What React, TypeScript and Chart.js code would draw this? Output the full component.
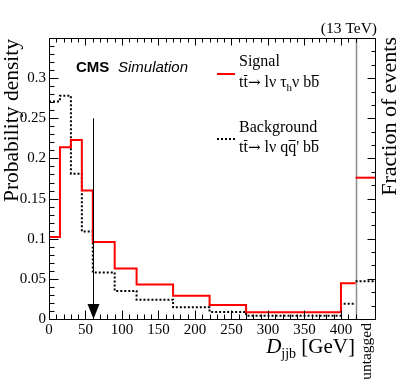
import React, { useEffect, useRef } from 'react';
import { Chart, registerables } from 'chart.js';

Chart.register(...registerables);

// ---- data ----
const binEdges = [0, 15, 30, 45, 60, 90, 120, 170, 220, 270, 400, 420];
const signalValues = [0.102, 0.214, 0.223, 0.16, 0.096, 0.063, 0.043, 0.029, 0.0175, 0.0085, 0.0445];
const backgroundValues = [0.271, 0.278, 0.181, 0.109, 0.058, 0.035, 0.024, 0.0145, 0.0087, 0.0042, 0.019];
const untaggedEdges = [420, 448];
const signalUntagged = [0.176];
const backgroundUntagged = [0.047];
const xTickValues = [0, 50, 100, 150, 200, 250, 300, 350, 400];
const yTickValues = [0, 0.05, 0.1, 0.15, 0.2, 0.25, 0.3];
const cutPosition = 60;
const cutArrowTop = 0.25;

const SERIF = '"Liberation Serif", "Times New Roman", serif';
const SANS = '"Liberation Sans", Arial, sans-serif';

function histPoints(edges: number[], values: number[]) {
  const pts = values.map((v, i) => ({ x: edges[i], y: v }));
  pts.push({ x: edges[edges.length - 1], y: values[values.length - 1] });
  return pts;
}

type Part = { t: string; sub?: boolean; bar?: boolean; italic?: boolean; family?: string; scale?: number };

function drawRich(ctx: CanvasRenderingContext2D, x: number, y: number, parts: Part[], size: number, align: 'left' | 'right' = 'left') {
  const fontFor = (p: Part) => `${p.italic ? 'italic ' : ''}${Math.round(size * (p.sub ? 0.68 : p.scale || 1))}px ${p.family || SERIF}`;
  let total = 0;
  for (const p of parts) {
    ctx.font = fontFor(p);
    total += ctx.measureText(p.t).width;
  }
  let cx = align === 'left' ? x : x - total;
  ctx.textAlign = 'left';
  ctx.textBaseline = 'alphabetic';
  for (const p of parts) {
    ctx.font = fontFor(p);
    const w = ctx.measureText(p.t).width;
    const by = p.sub ? y + size * 0.22 : y;
    ctx.fillText(p.t, cx, by);
    if (p.bar) {
      ctx.save();
      ctx.lineWidth = 1;
      ctx.strokeStyle = '#000';
      ctx.beginPath();
      const yy = Math.round(by - size * 0.76) + 0.5;
      ctx.moveTo(cx + 0.5, yy);
      ctx.lineTo(cx + w - 0.5, yy);
      ctx.stroke();
      ctx.restore();
    }
    cx += w;
  }
}

const decorPlugin = {
  id: 'decor',
  beforeDatasetsDraw(chart: any) {
    const ctx: CanvasRenderingContext2D = chart.ctx;
    const { top, bottom } = chart.chartArea;
    const xs = chart.scales.x;
    const sx = Math.round(xs.getPixelForValue(untaggedEdges[0])) + 0.5;
    ctx.save();
    ctx.strokeStyle = '#8c8c8c';
    ctx.lineWidth = 1.5;
    ctx.beginPath();
    ctx.moveTo(sx, top);
    ctx.lineTo(sx, bottom);
    ctx.stroke();
    ctx.restore();
  },
  afterDraw(chart: any) {
    const ctx: CanvasRenderingContext2D = chart.ctx;
    const { left, right, top, bottom } = chart.chartArea;
    const xs = chart.scales.x;
    const ys = chart.scales.y;
    const L = Math.round(left) + 0.5;
    const R = Math.round(right) - 0.5;
    const T = Math.round(top) + 0.5;
    const B = Math.round(bottom) + 0.5;
    ctx.save();
    ctx.strokeStyle = '#000';
    ctx.lineWidth = 1;
    ctx.beginPath();
    ctx.moveTo(L, T); ctx.lineTo(R, T); ctx.lineTo(R, B); ctx.lineTo(L, B); ctx.closePath();
    ctx.stroke();

    // x ticks (bottom and top, inward)
    ctx.beginPath();
    for (let v = 0; v <= untaggedEdges[0]; v += 10) {
      const px = Math.round(xs.getPixelForValue(v)) + 0.5;
      const major = v % 50 === 0;
      const lb = major ? 9 : 5;
      const lt = major ? 7 : 4;
      ctx.moveTo(px, B); ctx.lineTo(px, B - lb);
      ctx.moveTo(px, T); ctx.lineTo(px, T + lt);
    }
    // y ticks left
    for (let i = 0; i <= 35; i++) {
      const v = i * 0.01;
      const py = Math.round(ys.getPixelForValue(v)) + 0.5;
      const major = i % 5 === 0;
      ctx.moveTo(L, py); ctx.lineTo(L + (major ? 9 : 5), py);
    }
    // y ticks right (untagged panel)
    for (let i = 0; i <= 21; i++) {
      const v = i * (0.05 / 3);
      if (v > 0.35) break;
      const py = Math.round(ys.getPixelForValue(v)) + 0.5;
      const major = i % 3 === 0;
      ctx.moveTo(R, py); ctx.lineTo(R - (major ? 8 : 4), py);
    }
    ctx.stroke();

    // arrow
    const ax = Math.round(xs.getPixelForValue(cutPosition)) + 0.5;
    const ayTop = ys.getPixelForValue(cutArrowTop);
    const ayBot = ys.getPixelForValue(0);
    ctx.beginPath();
    ctx.moveTo(ax, ayTop);
    ctx.lineTo(ax, ayBot - 14);
    ctx.stroke();
    ctx.fillStyle = '#000';
    ctx.beginPath();
    ctx.moveTo(ax - 6, ayBot - 15);
    ctx.lineTo(ax + 6, ayBot - 15);
    ctx.lineTo(ax, ayBot);
    ctx.closePath();
    ctx.fill();

    // texts
    ctx.fillStyle = '#000';
    ctx.textBaseline = 'alphabetic';
    ctx.font = `15.5px ${SERIF}`;
    ctx.textAlign = 'right';
    ctx.fillText('(13 TeV)', 377, 33);

    ctx.textAlign = 'left';
    ctx.font = `bold 15px ${SANS}`;
    ctx.fillText('CMS', 76, 72);
    ctx.font = `italic 15px ${SANS}`;
    ctx.fillText('Simulation', 118, 72);

    // legend
    ctx.strokeStyle = '#ff0000';
    ctx.lineWidth = 2;
    ctx.beginPath();
    ctx.moveTo(217, 74); ctx.lineTo(235, 74);
    ctx.stroke();
    ctx.strokeStyle = '#000';
    ctx.setLineDash([2, 2]);
    ctx.beginPath();
    ctx.moveTo(217, 139); ctx.lineTo(235, 139);
    ctx.stroke();
    ctx.setLineDash([]);

    ctx.font = `16px ${SERIF}`;
    ctx.fillText('Signal', 239, 66);
    ctx.fillText('Background', 239, 132);
    const ARROW_FONT = '"DejaVu Serif", serif';
    drawRich(ctx, 239, 87, [
      { t: 't' }, { t: 't', bar: true }, { t: '\u2192', family: ARROW_FONT, scale: 0.95 }, { t: ' l\u03bd \u03c4' }, { t: 'h', sub: true }, { t: '\u03bd b' }, { t: 'b', bar: true },
    ], 16);
    drawRich(ctx, 239, 152, [
      { t: 't' }, { t: 't', bar: true }, { t: '\u2192', family: ARROW_FONT, scale: 0.95 }, { t: ' l\u03bd q' }, { t: 'q', bar: true }, { t: '\' b' }, { t: 'b', bar: true },
    ], 16);

    // x title
    drawRich(ctx, 355, 353, [
      { t: 'D', italic: true }, { t: 'jjb', sub: true }, { t: ' [GeV]' },
    ], 21, 'right');

    // rotated titles
    const rot = (text: string, x: number, y: number, font: string) => {
      ctx.save();
      ctx.translate(x, y);
      ctx.rotate(-Math.PI / 2);
      ctx.font = font;
      ctx.textAlign = 'right';
      ctx.textBaseline = 'alphabetic';
      ctx.fillText(text, 0, 0);
      ctx.restore();
    };
    rot('Probability density', 18, 39, `21.5px ${SERIF}`);
    rot('Fraction of events', 396, 37, `22px ${SERIF}`);
    rot('untagged', 371, 323, `15.5px ${SERIF}`);
    ctx.restore();
  },
};

export default function App() {
  const ref = useRef<HTMLCanvasElement | null>(null);
  useEffect(() => {
    if (!ref.current) return;
    const chart = new Chart(ref.current, {
      type: 'line',
      data: {
        datasets: [
          {
            label: 'Signal',
            data: histPoints(binEdges, signalValues),
            borderColor: '#ff0000',
            borderWidth: 2,
            stepped: 'before',
            pointRadius: 0,
            fill: false,
          },
          {
            label: 'Background',
            data: histPoints(binEdges, backgroundValues),
            borderColor: '#000000',
            borderWidth: 2,
            borderDash: [2, 2],
            stepped: 'before',
            pointRadius: 0,
            fill: false,
          },
          {
            label: 'Signal untagged',
            data: histPoints(untaggedEdges, signalUntagged),
            borderColor: '#ff0000',
            borderWidth: 2,
            stepped: 'before',
            pointRadius: 0,
            fill: false,
          },
          {
            label: 'Background untagged',
            data: histPoints(untaggedEdges, backgroundUntagged),
            borderColor: '#000000',
            borderWidth: 2,
            borderDash: [2, 2],
            stepped: 'before',
            pointRadius: 0,
            fill: false,
          },
        ],
      },
      options: {
        animation: false,
        responsive: false,
        devicePixelRatio: 1,
        layout: { padding: { top: 38, right: 23, left: 0, bottom: 0 } },
        plugins: { legend: { display: false }, tooltip: { enabled: false } },
        scales: {
          x: {
            type: 'linear',
            min: 0,
            max: untaggedEdges[1],
            grid: { display: false, drawTicks: false },
            border: { display: false },
            afterFit: (s: any) => { s.height = 66; },
            afterBuildTicks: (s: any) => { s.ticks = xTickValues.map((v) => ({ value: v })); },
            ticks: {
              autoSkip: false,
              maxRotation: 0,
              padding: 2,
              color: '#000',
              font: { family: SERIF, size: 15 },
              callback: (v: any) => String(v),
            },
          },
          y: {
            type: 'linear',
            min: 0,
            max: 0.35,
            grid: { display: false, drawTicks: false },
            border: { display: false },
            afterFit: (s: any) => { s.width = 49; },
            afterBuildTicks: (s: any) => { s.ticks = yTickValues.map((v) => ({ value: v })); },
            ticks: {
              autoSkip: false,
              padding: 3,
              color: '#000',
              font: { family: SERIF, size: 15 },
              callback: (v: any) => String(+Number(v).toFixed(2)),
            },
          },
        },
      },
      plugins: [decorPlugin],
    } as any);
    return () => chart.destroy();
  }, []);
  return (
    <div style={{ position: 'absolute', left: 0, top: 0, width: 399, height: 385, background: '#fff' }}>
      <canvas ref={ref} width={399} height={385} style={{ display: 'block' }} />
    </div>
  );
}
